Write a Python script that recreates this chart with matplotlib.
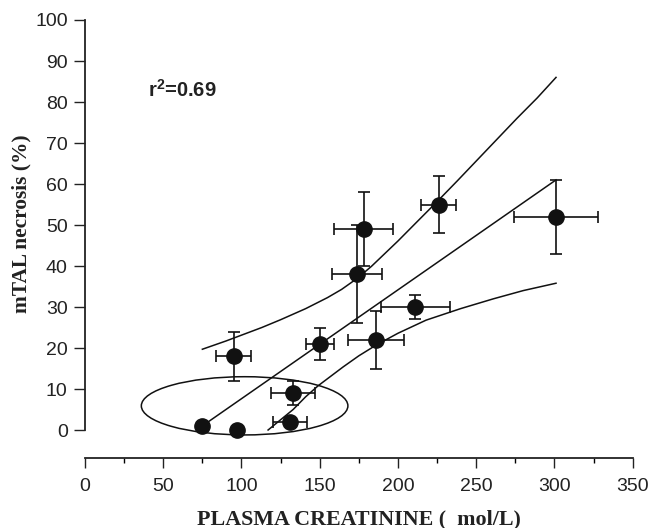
import matplotlib
matplotlib.use("Agg")
import matplotlib.pyplot as plt
from matplotlib.patches import Ellipse

plt.rcParams["mathtext.fontset"] = "custom"
plt.rcParams["mathtext.bf"] = "Liberation Sans:bold"
plt.rcParams["mathtext.rm"] = "Liberation Sans:bold"
plt.rcParams["mathtext.default"] = "bf"

# Plasma creatinine (umol/L) and mTAL necrosis (%) per group, mean +/- SD
creatinine = [75, 97, 95, 133, 131, 150, 174, 178, 186, 211, 226, 301]
creatinine_err = [0, 0, 11, 14, 11, 9, 16, 19, 18, 22, 11, 27]
necrosis = [1, 0, 18, 9, 2, 21, 38, 49, 22, 30, 55, 52]
necrosis_err = [0, 0, 6, 3, 0, 4, 12, 9, 7, 3, 7, 9]

# Regression line and its confidence band
fit_x = [75, 301]
fit_y = [1, 61]
upper_x = [75, 90, 113, 125, 141, 155, 164, 174, 183, 200, 213, 225, 238, 250, 263, 276, 289, 301]
upper_y = [19.7, 21.7, 25.0, 26.9, 29.6, 32.3, 34.3, 37.0, 39.9, 46.1, 51.1, 55.7, 60.8, 65.6, 70.8, 76.0, 81.0, 86.0]
lower_x = [117, 125, 133, 141, 149, 157, 165, 175, 186, 200, 218, 240, 261, 280, 301]
lower_y = [0, 2.5, 5.0, 8.1, 10.8, 13.1, 15.4, 18.1, 20.7, 23.6, 26.8, 29.6, 32.0, 34.0, 35.8]

# Circled group of low-creatinine animals
circle_center = (102, 5.9)
circle_width = 132
circle_height = 14.2

x_ticks = [0, 50, 100, 150, 200, 250, 300, 350]
x_minor = [25, 75, 125, 175, 225, 275, 325]
y_ticks = [0, 10, 20, 30, 40, 50, 60, 70, 80, 90, 100]

W, H = 651, 528
fig = plt.figure(figsize=(W / 100, H / 100), dpi=100)
left, right = 85 / W, 632.7 / W
bottom, top = 1 - 458.3 / H, 1 - 20 / H
ax = fig.add_axes([left, bottom, right - left, top - bottom])
ax.set_xlim(0, 350)
ax.set_ylim(-6.9, 100)

ink = "#111111"
ax.plot(upper_x, upper_y, color=ink, lw=1.1)
ax.plot(fit_x, fit_y, color=ink, lw=1.1)
ax.plot(lower_x, lower_y, color=ink, lw=1.1)

ax.add_patch(Ellipse(circle_center, circle_width, circle_height,
                     fill=False, edgecolor=ink, lw=1.1))

ax.errorbar(creatinine, necrosis, xerr=creatinine_err, yerr=necrosis_err,
            fmt="o", color=ink, ms=11, elinewidth=1.2, capsize=4.5,
            capthick=1.2, clip_on=False, zorder=3)

for s in ("top", "right"):
    ax.spines[s].set_visible(False)
ax.spines["left"].set_bounds(0, 100)
ax.spines["bottom"].set_bounds(0, 350)
for s in ("left", "bottom"):
    ax.spines[s].set_linewidth(1.3)
    ax.spines[s].set_color("#222222")

ax.set_xticks(x_ticks)
ax.set_xticks(x_minor, minor=True)
ax.set_yticks(y_ticks)
ax.tick_params(axis="y", direction="out", length=8, width=1.0, pad=4.5,
               labelsize=14, colors="#222222")
ax.tick_params(axis="x", which="major", direction="out", length=7, width=1.0,
               pad=7.5, labelsize=14, colors="#222222")
ax.tick_params(axis="x", which="minor", direction="out", length=3.6, width=1.0)
for lab in ax.get_xticklabels() + ax.get_yticklabels():
    lab.set_fontfamily("Liberation Sans")

fig.text(21 / W, 1 - 224 / H, "mTAL necrosis (%)", rotation=90,
         ha="center", va="center", family="Liberation Serif",
         weight="bold", fontsize=15.4, color="#222222")
fig.text(358.8 / W, 1 - 519 / H, "PLASMA CREATININE (  mol/L)",
         ha="center", va="center", family="Liberation Serif",
         weight="bold", fontsize=15.8, color="#222222")

ax.text(147.7 / W, 1 - 96.7 / H, r"r$^{2}$=0.69", transform=fig.transFigure,
        ha="left", va="baseline", family="Liberation Sans", weight="bold",
        fontsize=14.5, color="#222222")

fig.savefig("out.png", dpi=100)
